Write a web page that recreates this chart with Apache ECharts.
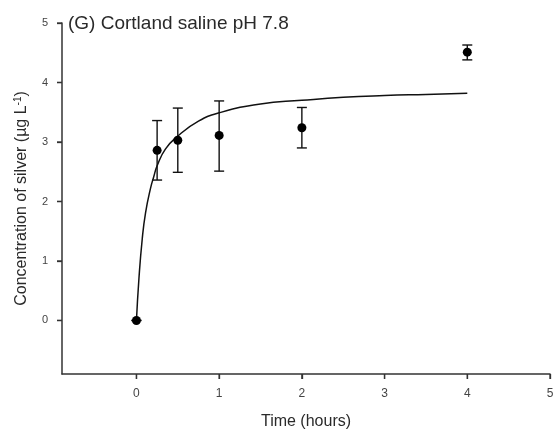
<!DOCTYPE html>
<html>
<head>
<meta charset="utf-8">
<script src="https://cdn.jsdelivr.net/npm/echarts@6/dist/echarts.min.js"></script>
<style>html,body{margin:0;padding:0;background:#fff}#c{width:555px;height:436px}</style>
</head>
<body>
<div id="c"></div>
<script>
// Measured points (time in hours, mean concentration, error bar low/high)
const times = [0, 0.25, 0.5, 1, 2, 4];
const means = [0, 2.86, 3.03, 3.11, 3.24, 4.51];
const errLow = [0, 2.36, 2.49, 2.51, 2.90, 4.38];
const errHigh = [0, 3.36, 3.57, 3.69, 3.58, 4.63];
// Fitted curve
const curveX = [0, 0.03, 0.07, 0.11, 0.17, 0.21, 0.25, 0.35, 0.5, 0.75, 1, 1.5, 2, 2.5, 3, 3.5, 4];
const curveY = [0, 0.70, 1.37, 1.81, 2.22, 2.42, 2.60, 2.88, 3.10, 3.35, 3.49, 3.64, 3.70, 3.75, 3.78, 3.80, 3.82];
const xTicks = [0, 1, 2, 3, 4, 5];
const yTicks = [0, 1, 2, 3, 4, 5];
const axisMin = -0.9;

const chart = echarts.init(document.getElementById('c'));
const font = '"Liberation Sans", Arial, sans-serif';
const tickFmt = (ticks) => (v) => ticks.indexOf(Math.round(v * 1000) / 1000) >= 0 ? String(Math.round(v)) : '';
chart.setOption({
  backgroundColor: '#fff',
  animation: false,
  title: {
    text: '(G) Cortland saline pH 7.8',
    left: 63, top: 9,
    textStyle: {fontFamily: font, fontSize: 19, fontWeight: 'normal', color: '#2a2a2a'}
  },
  grid: {left: 62, right: 5, top: 23, bottom: 62, outerBoundsMode: 'none', containLabel: false},
  xAxis: {
    type: 'value', min: axisMin, max: 5,
    name: 'Time (hours)', nameLocation: 'middle', nameGap: 40,
    nameTextStyle: {fontFamily: font, fontSize: 16, color: '#2a2a2a'},
    axisLine: {show: true, onZero: false, lineStyle: {color: '#333', width: 1.5}},
    axisTick: {show: true, inside: false, customValues: xTicks, length: 5, lineStyle: {color: '#333', width: 1.3}},
    axisLabel: {customValues: xTicks, formatter: tickFmt(xTicks), margin: 14, fontFamily: font, fontSize: 12, color: '#444'},
    splitLine: {show: false}
  },
  yAxis: {
    type: 'value', min: axisMin, max: 5,
    name: '{n|Concentration of silver (µg L}{s|-1}{n|)}', nameLocation: 'middle', nameGap: 31,
    nameTextStyle: {
      rich: {
        n: {fontFamily: font, fontSize: 16, color: '#2a2a2a'},
        s: {fontFamily: font, fontSize: 10, color: '#2a2a2a', verticalAlign: 'top', padding: [0, 0, 8, 0]}
      }
    },
    axisLine: {show: true, onZero: false, lineStyle: {color: '#333', width: 1.5}},
    axisTick: {show: true, inside: false, customValues: yTicks, length: 5, lineStyle: {color: '#333', width: 1.3}},
    axisLabel: {customValues: yTicks, formatter: tickFmt(yTicks), margin: 14, fontFamily: font, fontSize: 11, color: '#444'},
    splitLine: {show: false}
  },
  series: [
    {
      type: 'line', smooth: true, showSymbol: false,
      data: curveX.map((x, i) => [x, curveY[i]]),
      lineStyle: {color: '#111', width: 1.5}, z: 2
    },
    {
      type: 'custom',
      data: times.map((t, i) => [t, errLow[i], errHigh[i]]),
      renderItem: function (params, api) {
        const lo = api.coord([api.value(0), api.value(1)]);
        const hi = api.coord([api.value(0), api.value(2)]);
        const w = 5;
        const style = {stroke: '#111', lineWidth: 1.4};
        return {
          type: 'group',
          children: [
            {type: 'line', shape: {x1: lo[0], y1: lo[1], x2: hi[0], y2: hi[1]}, style: style},
            {type: 'line', shape: {x1: lo[0] - w, y1: lo[1], x2: lo[0] + w, y2: lo[1]}, style: style},
            {type: 'line', shape: {x1: hi[0] - w, y1: hi[1], x2: hi[0] + w, y2: hi[1]}, style: style}
          ]
        };
      },
      z: 3
    },
    {
      type: 'scatter', symbol: 'circle', symbolSize: 9,
      data: times.map((t, i) => [t, means[i]]),
      itemStyle: {color: '#000', opacity: 1}, z: 4
    }
  ]
});

// Outward tick marks, positioned through the chart's own axis scales
try {
  const xAxisY = chart.convertToPixel({yAxisIndex: 0}, axisMin);
  const yAxisX = chart.convertToPixel({xAxisIndex: 0}, axisMin);
  const els = [];
  xTicks.forEach(v => {
    const x = chart.convertToPixel({xAxisIndex: 0}, v);
    els.push({type: 'line', z: 100, shape: {x1: x, y1: xAxisY, x2: x, y2: xAxisY + 5}, style: {stroke: '#333', lineWidth: 1.3}});
  });
  yTicks.forEach(v => {
    const y = chart.convertToPixel({yAxisIndex: 0}, v);
    els.push({type: 'line', z: 100, shape: {x1: yAxisX - 5, y1: y, x2: yAxisX, y2: y}, style: {stroke: '#333', lineWidth: 1.3}});
  });
  chart.setOption({graphic: {elements: els}});
} catch (e) {
  console.error(e);
}
</script>
</body>
</html>
